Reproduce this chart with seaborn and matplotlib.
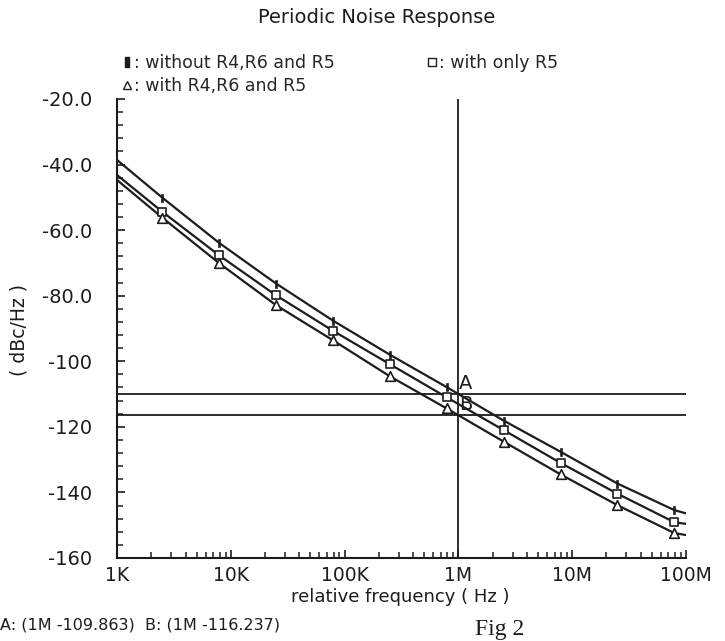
import matplotlib
matplotlib.use('Agg')
import matplotlib.pyplot as plt
from matplotlib.lines import Line2D
from matplotlib.path import Path
from matplotlib.ticker import FixedLocator, LogLocator, NullFormatter, MultipleLocator
import pandas as pd
import seaborn as sns

# Data
freq = [1e3, 2.5e3, 7.9e3, 25e3, 79e3, 250e3, 790e3, 2.5e6, 7.9e6, 25e6, 79e6, 1e8]
without_r = [-38.6, -50.1, -63.9, -76.3, -87.6, -98.0, -107.9, -118.1, -127.6, -137.3, -145.4, -146.4]
only_r5 = [-43.2, -54.4, -67.7, -79.9, -90.7, -100.9, -111.0, -121.0, -131.0, -140.4, -149.1, -149.6]
with_r = [-44.7, -56.2, -70.1, -82.9, -93.6, -104.6, -114.4, -124.5, -134.5, -143.9, -152.4, -153.0]
series_names = ['without R4,R6 and R5', 'with only R5', 'with R4,R6 and R5']

x_ticks = [1e3, 1e4, 1e5, 1e6, 1e7, 1e8]
x_ticklabels = ['1K', '10K', '100K', '1M', '10M', '100M']
y_ticks = [-20, -40, -60, -80, -100, -120, -140, -160]
y_ticklabels = ['-20.0', '-40.0', '-60.0', '-80.0', '-100', '-120', '-140', '-160']

cursor_freq = 1e6
cursor_a = -109.863
cursor_b = -116.237

sns.set_style('ticks')
plt.rcParams['font.family'] = ['DejaVu Sans']
plt.rcParams['xtick.direction'] = 'in'
plt.rcParams['ytick.direction'] = 'in'

ink = '#1c1c1c'
bar = Path([(-0.35, -1), (0.35, -1), (0.35, 1), (-0.35, 1), (-0.35, -1)],
           [Path.MOVETO, Path.LINETO, Path.LINETO, Path.LINETO, Path.CLOSEPOLY])
marker_style = {
    series_names[0]: dict(marker=bar, s=32, color=ink, edgecolor=ink),
    series_names[1]: dict(marker='s', s=38, facecolor='white', edgecolor=ink, linewidth=1.2),
    series_names[2]: dict(marker='^', s=48, facecolor='white', edgecolor=ink, linewidth=1.2),
}

df = pd.DataFrame({
    'freq': freq * 3,
    'value': without_r + only_r5 + with_r,
    'series': [n for n in series_names for _ in freq],
})

fig = plt.figure(figsize=(7.25, 6.41), dpi=100)
ax = fig.add_axes([0.1614, 0.1295, 0.7848, 0.7161])

# curves
sns.lineplot(data=df, x='freq', y='value', units='series', estimator=None,
             color=ink, linewidth=1.6, ax=ax, legend=False)

# markers on the inner points only
for name in series_names:
    sub = df[df['series'] == name].iloc[1:-1]
    sns.scatterplot(data=sub, x='freq', y='value', ax=ax, zorder=3,
                    legend=False, **marker_style[name])

# cursors
ax.axvline(cursor_freq, color=ink, linewidth=1.3)
ax.axhline(cursor_a, color=ink, linewidth=1.3)
ax.axhline(cursor_b, color=ink, linewidth=1.3)
ax.text(cursor_freq * 1.01, cursor_a + 0.3, 'A', fontsize=14, color=ink,
        ha='left', va='bottom')
ax.text(cursor_freq * 1.01, cursor_b + 0.3, 'B', fontsize=14, color=ink,
        ha='left', va='bottom')

ax.set_xscale('log')
ax.set_xlim(1e3, 1e8)
ax.set_ylim(-160, -20)
ax.xaxis.set_major_locator(FixedLocator(x_ticks))
ax.xaxis.set_minor_locator(LogLocator(base=10, subs=range(2, 10)))
ax.xaxis.set_minor_formatter(NullFormatter())
ax.set_xticklabels(x_ticklabels)
ax.yaxis.set_major_locator(FixedLocator(y_ticks))
ax.yaxis.set_minor_locator(MultipleLocator(4))
ax.set_yticklabels(y_ticklabels)
ax.tick_params(which='major', length=6, width=1.2, colors=ink, labelsize=13.5, pad=6)
ax.tick_params(which='minor', length=4, width=1.1, colors=ink)
ax.tick_params(axis='y', which='major', pad=18, labelsize=14)
sns.despine(ax=ax)
for sp in ['left', 'bottom']:
    ax.spines[sp].set_linewidth(1.5)
    ax.spines[sp].set_color(ink)

ax.set_xlabel('relative frequency ( Hz )', fontsize=13, color=ink)
ax.set_ylabel('( dBc/Hz )', fontsize=13.5, color=ink)
ax.xaxis.set_label_coords(0.497, -0.066)
ax.yaxis.set_label_coords(-0.155, 0.497)

fig.text(0.52, 0.972, 'Periodic Noise Response', fontsize=14, color=ink,
         ha='center', va='center')

handles = [Line2D([], [], linestyle='none', marker=bar, markersize=6.5, color=ink),
           Line2D([], [], linestyle='none', marker='s', markersize=5.5,
                  markerfacecolor='white', markeredgecolor=ink),
           Line2D([], [], linestyle='none', marker='^', markersize=6,
                  markerfacecolor='white', markeredgecolor=ink)]
order = [0, 2, 1]
fig.legend([handles[i] for i in order], [': ' + series_names[i] for i in order],
           loc='upper left', bbox_to_anchor=(0.168, 0.916), ncol=2, frameon=False,
           fontsize=12.5, handlelength=0.6, handletextpad=0.1, columnspacing=5.3,
           labelspacing=0.3, borderaxespad=0, borderpad=0)

fig.text(0.0, 0.025, 'A: (1M -109.863)  B: (1M -116.237)', fontsize=11.5,
         color=ink, ha='left', va='center')
fig.text(0.655, 0.001, 'Fig 2', fontsize=17, family=['Liberation Serif', 'DejaVu Serif'],
         color=ink, ha='left', va='bottom')

fig.savefig('out.png', dpi=100)
